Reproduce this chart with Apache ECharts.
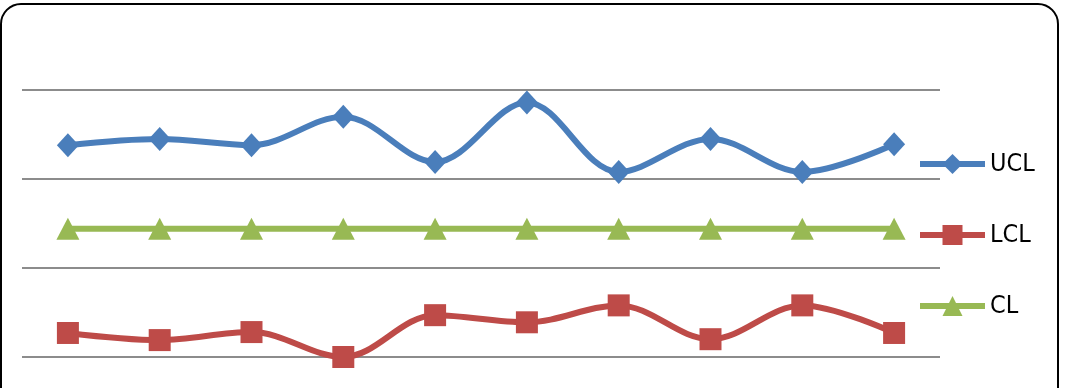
<!DOCTYPE html>
<html>
<head>
<meta charset="utf-8">
<script src="https://cdn.jsdelivr.net/npm/echarts@6/dist/echarts.min.js"></script>
<style>
html,body{margin:0;padding:0;background:#fff;}
#c{width:1066px;height:388px;}
</style>
</head>
<body>
<div id="c"></div>
<script>
var categories = ['1','2','3','4','5','6','7','8','9','10'];
var ucl = [2.38, 2.45, 2.38, 2.70, 2.19, 2.86, 2.08, 2.45, 2.08, 2.39];
var lcl = [0.27, 0.19, 0.28, 0.00, 0.47, 0.39, 0.58, 0.20, 0.58, 0.27];
var cl  = [1.44, 1.44, 1.44, 1.44, 1.44, 1.44, 1.44, 1.44, 1.44, 1.44];

var chart = echarts.init(document.getElementById('c'));
chart.setOption({
  animation: false,
  backgroundColor: '#fff',
  graphic: [{
    type: 'rect',
    shape: {x: 1, y: 4, width: 1057, height: 430, r: 20},
    style: {fill: 'none', stroke: '#000', lineWidth: 2},
    silent: true,
    z: -1
  }],
  grid: {left: 22, right: 126, top: 90, bottom: 31, containLabel: false},
  legend: {
    orient: 'vertical',
    left: 917,
    top: 151,
    padding: 0,
    itemWidth: 65,
    itemHeight: 25,
    itemGap: 45,
    lineStyle: {width: 6},
    textStyle: {fontFamily: '"Liberation Sans Narrow", "DejaVu Sans Condensed", sans-serif', fontSize: 25, color: '#000', lineHeight: 26},
    data: ['UCL', 'LCL', 'CL']
  },
  xAxis: {
    type: 'category',
    data: categories,
    boundaryGap: true,
    axisLine: {show: false},
    axisTick: {show: false},
    axisLabel: {show: false}
  },
  yAxis: {
    type: 'value',
    min: 0, max: 3, interval: 1,
    axisLine: {show: false},
    axisTick: {show: false},
    axisLabel: {show: false},
    splitLine: {lineStyle: {color: '#8c8c8c', width: 2}}
  },
  series: [
    {
      name: 'UCL', type: 'line', data: ucl, smooth: 0.35,
      symbol: 'diamond', symbolSize: [22, 24],
      lineStyle: {color: '#4A7EBB', width: 6},
      itemStyle: {color: '#4A7EBB'}
    },
    {
      name: 'LCL', type: 'line', data: lcl, smooth: 0.35,
      symbol: 'rect', symbolSize: 22,
      lineStyle: {color: '#BE4B48', width: 6},
      itemStyle: {color: '#BE4B48'}
    },
    {
      name: 'CL', type: 'line', data: cl,
      symbol: 'triangle', symbolSize: [23, 22],
      lineStyle: {color: '#98B954', width: 6},
      itemStyle: {color: '#98B954'}
    }
  ]
});
</script>
</body>
</html>
